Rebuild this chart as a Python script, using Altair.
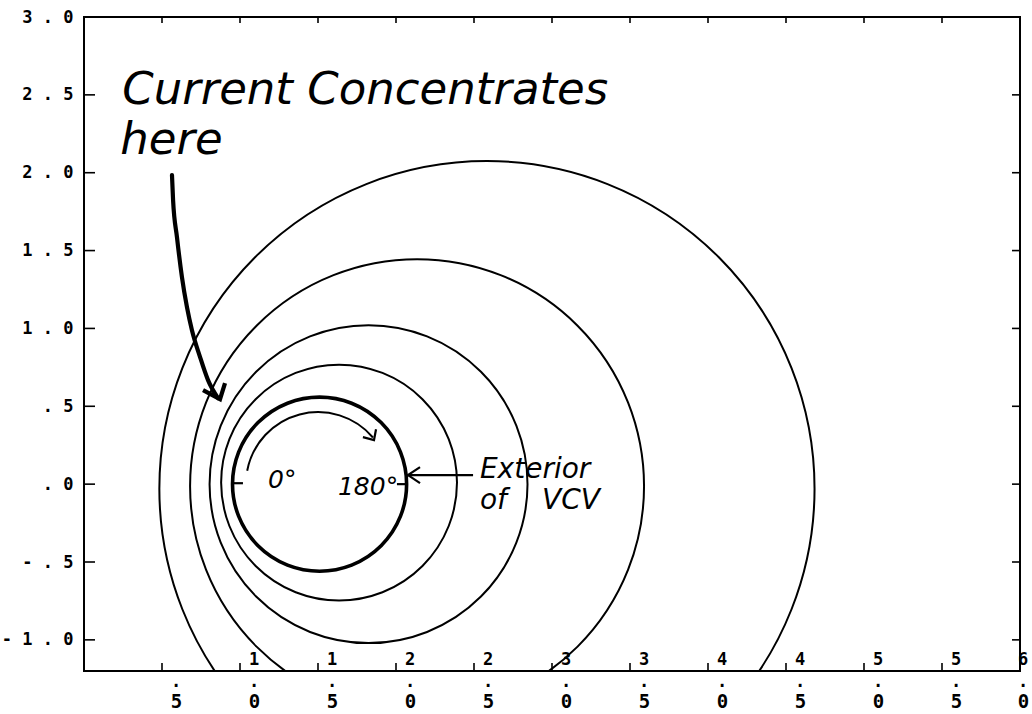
import math
import altair as alt
import pandas as pd

# ---- axes -------------------------------------------------------------
X_TICKS = [0.5, 1.0, 1.5, 2.0, 2.5, 3.0, 3.5, 4.0, 4.5, 5.0, 5.5, 6.0]
X_LABELS = [".5", "1.0", "1.5", "2.0", "2.5", "3.0", "3.5", "4.0", "4.5", "5.0", "5.5", "6.0"]
Y_TICKS = [3.0, 2.5, 2.0, 1.5, 1.0, 0.5, 0.0, -0.5, -1.0]
Y_LABELS = ["3.0", "2.5", "2.0", "1.5", "1.0", ".5", ".0", "-.5", "-1.0"]
X_DOMAIN = [0.0, 6.0]
Y_DOMAIN = [-1.2, 3.0]

# ---- current contours (centre x, centre y, radius) ---------------------
CURVE_NAMES = ["c1", "c2", "c3", "c4", "VCV"]
CURVE_CX = [2.583, 2.135, 1.824, 1.635, 1.510]
CURVE_CY = [-0.029, -0.013, 0.000, 0.010, 0.000]
CURVE_R = [2.100, 1.455, 1.019, 0.756, 0.558]

# rotation arrow inside the VCV circle (angles clockwise from 12 o'clock)
SWEEP_CX = [1.50]
SWEEP_CY = [0.0]
SWEEP_R = [0.462]
SWEEP_START = 4.90
SWEEP_END = 7.15

# ---- hand-drawn strokes (data units) ------------------------------------
BIG_ARROW_X = [0.564, 0.571, 0.596, 0.628, 0.660, 0.692, 0.744, 0.795, 0.859]
BIG_ARROW_Y = [1.985, 1.824, 1.586, 1.329, 1.137, 0.989, 0.816, 0.668, 0.552]
BIG_HEAD_X = [0.763, 0.872, 0.904]
BIG_HEAD_Y = [0.604, 0.546, 0.649]

SWEEP_HEAD_X = [1.788, 1.859, 1.872]
SWEEP_HEAD_Y = [0.302, 0.283, 0.353]

EXT_ARROW_X = [2.494, 2.077]
EXT_ARROW_Y = [0.058, 0.058]
EXT_HEAD_X = [2.154, 2.077, 2.154]
EXT_HEAD_Y = [0.109, 0.058, 0.006]

ZERO_MARK_X = [0.949, 1.019]
ZERO_MARK_Y = [0.006, 0.006]
HALF_MARK_X = [2.006, 2.077]
HALF_MARK_Y = [0.000, 0.000]

# ---- annotations ----------------------------------------------------------
NOTE_TEXT = ["Current Concentrates", "here"]
NOTE_X = [0.245, 0.232]
NOTE_Y = [2.440, 2.120]

ANGLE_TEXT = ["0°", "180°"]
ANGLE_X = [1.180, 1.628]
ANGLE_Y = [-0.026, -0.071]

VCV_TEXT = ["Exterior", "of", "VCV"]
VCV_X = [2.538, 2.538, 2.936]
VCV_Y = [0.038, -0.160, -0.160]

XS = alt.Scale(domain=X_DOMAIN, nice=False, zero=False)
YS = alt.Scale(domain=Y_DOMAIN, nice=False, zero=False)
RS = alt.Scale(type="linear", domain=[0, 1], range=[0, 156], zero=True)
W, H = 936, 654
LAST_X = X_TICKS[-1]


def chain(values, texts):
    expr = "''"
    for v, t in reversed(list(zip(values, texts))):
        expr = f"datum.value == {v} ? '{t}' : " + expr
    return expr


x_axis = alt.Axis(
    values=X_TICKS,
    labelExpr=chain(X_TICKS, [lbl[-1] for lbl in X_LABELS]),
    labelFont="DejaVu Sans Mono", labelFontWeight="bold", labelFontSize=19,
    labelColor="black", labelBaseline="top", labelPadding=21,
    labelOffset={"condition": {"test": f"datum.value == {LAST_X}", "value": 3}, "value": 14},
    labelFlush=False, labelOverlap=False, ticks=False, tickSize=0, domain=False,
    grid=False, title=None,
)
y_axis = alt.Axis(
    values=Y_TICKS,
    labelExpr=chain(Y_TICKS, [" ".join(lbl) for lbl in Y_LABELS]),
    labelFont="DejaVu Sans Mono", labelFontWeight="bold", labelFontSize=17,
    labelColor="black", labelBaseline="middle", labelPadding=11,
    labelFlush=False, labelOverlap=False, ticks=False, tickSize=0, domain=False,
    grid=False, title=None,
)

# each contour is a zero-width ring so only the circle itself is stroked
curves = pd.DataFrame({"curve": CURVE_NAMES, "cx": CURVE_CX, "cy": CURVE_CY, "r": CURVE_R})
contour_layer = alt.Chart(curves).mark_arc(
    filled=False, color="black", stroke="black", clip=True, theta=0, theta2=2 * math.pi
).encode(
    x=alt.X("cx:Q", scale=XS, axis=x_axis),
    y=alt.Y("cy:Q", scale=YS, axis=y_axis),
    radius=alt.Radius("r:Q", scale=RS, stack=None),
    radius2="r:Q",
    strokeWidth=alt.condition("datum.curve == 'VCV'", alt.value(3.6), alt.value(2.0)),
)

sweep = pd.DataFrame({"cx": SWEEP_CX, "cy": SWEEP_CY, "r": SWEEP_R})
sweep_layer = alt.Chart(sweep).mark_arc(
    filled=False, color="black", stroke="black", strokeWidth=2.0,
    theta=SWEEP_START, theta2=SWEEP_END,
).encode(
    x=alt.X("cx:Q", scale=XS), y=alt.Y("cy:Q", scale=YS),
    radius=alt.Radius("r:Q", scale=RS, stack=None),
    radius2="r:Q",
)


def path_frame(groups):
    rows = []
    for g, (xs, ys) in enumerate(groups):
        for i, (xv, yv) in enumerate(zip(xs, ys)):
            rows.append({"seg": g, "ord": i, "x": xv, "y": yv})
    return pd.DataFrame(rows)


big_arrow = alt.Chart(path_frame([(BIG_ARROW_X, BIG_ARROW_Y)])).mark_line(
    color="black", strokeWidth=4.2, strokeCap="round", strokeJoin="round",
    interpolate="monotone",
).encode(x=alt.X("x:Q", scale=XS), y=alt.Y("y:Q", scale=YS), order="ord:Q")
big_head = alt.Chart(path_frame([(BIG_HEAD_X, BIG_HEAD_Y)])).mark_line(
    color="black", strokeWidth=4.2, strokeJoin="miter"
).encode(x=alt.X("x:Q", scale=XS), y=alt.Y("y:Q", scale=YS), order="ord:Q")

thin_strokes = alt.Chart(path_frame([
    (SWEEP_HEAD_X, SWEEP_HEAD_Y),
    (EXT_ARROW_X, EXT_ARROW_Y),
    (EXT_HEAD_X, EXT_HEAD_Y),
    (ZERO_MARK_X, ZERO_MARK_Y),
    (HALF_MARK_X, HALF_MARK_Y),
])).mark_line(color="black", strokeWidth=2.2).encode(
    x=alt.X("x:Q", scale=XS), y=alt.Y("y:Q", scale=YS),
    detail="seg:N", order="ord:Q",
)

# inward tick marks on all four sides of the frame
xt = pd.DataFrame({"v": X_TICKS, "top": [lbl[:-2] for lbl in X_LABELS]})
yt = pd.DataFrame({"v": Y_TICKS})
tick_style = dict(color="black", strokeWidth=1.6)
bottom_ticks = alt.Chart(xt).mark_rule(**tick_style).encode(
    x=alt.X("v:Q", scale=XS), y=alt.value(H), y2=alt.value(H - 8))
top_ticks = alt.Chart(xt).mark_rule(**tick_style).encode(
    x=alt.X("v:Q", scale=XS), y=alt.value(0), y2=alt.value(6))
left_ticks = alt.Chart(yt).mark_rule(**tick_style).encode(
    y=alt.Y("v:Q", scale=YS), x=alt.value(0), x2=alt.value(11))
right_ticks = alt.Chart(yt).mark_rule(**tick_style).encode(
    y=alt.Y("v:Q", scale=YS), x=alt.value(W), x2=alt.value(W - 8))


# stacked x labels: leading digit above the frame line, decimal point below it
def stacked_parts(shift, keep):
    base = alt.Chart(xt).transform_filter(keep)
    digits = base.mark_text(
        font="DejaVu Sans Mono", fontWeight="bold", fontSize=17, dx=shift, dy=-2,
        baseline="bottom", align="center", color="black",
    ).encode(x=alt.X("v:Q", scale=XS), y=alt.value(H), text="top:N")
    dots = base.mark_text(
        font="DejaVu Sans Mono", fontWeight="bold", fontSize=17, dx=shift, dy=16,
        baseline="alphabetic", align="center", color="black",
    ).encode(x=alt.X("v:Q", scale=XS), y=alt.value(H), text=alt.value("."))
    return [digits, dots]


label_parts = (stacked_parts(14, f"datum.v != {LAST_X}")
               + stacked_parts(3, f"datum.v == {LAST_X}"))


def note_layer(texts, xs, ys, size, style="italic"):
    df = pd.DataFrame({"t": texts, "x": xs, "y": ys})
    return alt.Chart(df).mark_text(
        font="DejaVu Sans", fontStyle=style, fontSize=size, align="left",
        baseline="alphabetic", color="black",
    ).encode(x=alt.X("x:Q", scale=XS), y=alt.Y("y:Q", scale=YS), text="t:N")


notes = note_layer(NOTE_TEXT, NOTE_X, NOTE_Y, 45)
angles = note_layer(ANGLE_TEXT, ANGLE_X, ANGLE_Y, 25)
vcv = note_layer(VCV_TEXT, VCV_X, VCV_Y, 28)

chart = alt.layer(
    contour_layer, sweep_layer, big_arrow, big_head, thin_strokes,
    bottom_ticks, top_ticks, left_ticks, right_ticks, *label_parts,
    notes, angles, vcv,
).properties(
    width=W, height=H,
    autosize=alt.AutoSizeParams(type="none"),
    padding={"left": 84, "top": 17, "right": 12, "bottom": 43},
    background="white",
).configure_view(stroke="black", strokeWidth=2)

chart.save("out.html", embed_options={"renderer": "svg", "actions": False})
